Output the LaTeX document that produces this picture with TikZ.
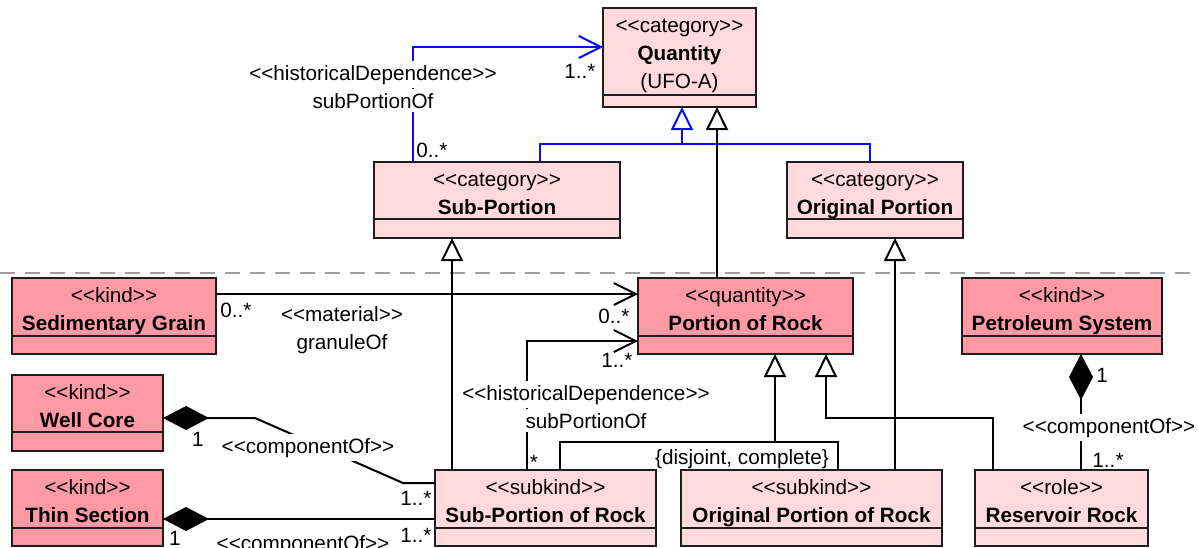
\documentclass[tikz,border=0pt]{standalone}
\usepackage{fontspec}
\setmainfont{Liberation Sans}
\usetikzlibrary{arrows.meta}
\definecolor{lpink}{RGB}{255,217,222}
\definecolor{dpink}{RGB}{255,153,163}
\definecolor{umlblue}{RGB}{10,10,255}
\definecolor{edge}{RGB}{30,30,30}
\newcommand\stereo[1]{<\kern0pt<#1>\kern0pt>}
\tikzset{
  umlrect/.style={draw=edge, line width=2pt, inner sep=0pt, outer sep=0pt},
  txt/.style={font=\fontsize{20.7}{28}\selectfont, inner sep=0pt, anchor=base},
  btxt/.style={txt, font=\fontsize{20.7}{28}\selectfont\bfseries},
  wtxt/.style={txt, fill=white, inner xsep=3pt, inner ysep=4pt},
  conn/.style={draw=black, line width=2pt},
  gen/.style={conn, -{Triangle[open, length=23pt, width=22pt, line width=2pt]}},
  assoc/.style={conn, -{Straight Barb[length=22pt, width=22pt, line width=2pt]}},
  comp/.style={conn, -{Diamond[length=46pt, width=24pt]}},
  bluel/.style={draw=umlblue},
  sepline/.style={draw=black!38, line width=1.2pt, dash pattern=on 15pt off 10pt}
}
\newcommand\umlbox[9]{%
  \node[umlrect, fill=#2, minimum width={(#5-#3)*1pt}, minimum height={(#6-#4)*1pt}] (#1) at ({(#3+#5)/2},{(#4+#6)/2}) {};
  \draw[umlrect] (#1.west |- 0,#7) -- (#1.east |- 0,#7);
  \node[txt] (#1-s) at ({(#3+#5)/2},{#4+24}) {#8};
  \node[btxt] (#1-t) at ({(#3+#5)/2},{#4+52}) {#9};
}
\begin{document}
\begin{tikzpicture}[x=1pt,y=-1pt]
\useasboundingbox (0,0) rectangle (1198,547);
\fill[white] (0,0) rectangle (1198,547);
\clip (0,0) rectangle (1198,547);
\draw[sepline] (0,273) -- (1198,273);

% boxes
\umlbox{qty}{lpink}{603}{8}{756}{107}{95}{\stereo{category}}{Quantity}
\node[txt] (qty-u) at (679.5,88) {(UFO-A)};
\umlbox{subp}{lpink}{374}{162}{620}{238}{219}{\stereo{category}}{Sub-Portion}
\umlbox{origp}{lpink}{787}{162}{963}{238}{219}{\stereo{category}}{Original Portion}
\umlbox{sed}{dpink}{12}{278}{216}{354}{336}{\stereo{kind}}{Sedimentary Grain}
\umlbox{por}{dpink}{638}{278}{853}{354}{336}{\stereo{quantity}}{Portion of Rock}
\umlbox{pet}{dpink}{962}{278}{1162}{354}{336}{\stereo{kind}}{Petroleum System}
\umlbox{well}{dpink}{12}{375}{163}{451}{432}{\stereo{kind}}{Well Core}
\umlbox{thin}{dpink}{12}{470}{163}{546}{528}{\stereo{kind}}{Thin Section}
\umlbox{spr}{lpink}{435}{470}{656}{546}{528}{\stereo{subkind}}{Sub-Portion of Rock}
\umlbox{opr}{lpink}{681}{470}{942}{546}{528}{\stereo{subkind}}{Original Portion of Rock}
\umlbox{res}{lpink}{975}{470}{1148}{546}{528}{\stereo{role}}{Reservoir Rock}

% junction coordinates
\coordinate (bj) at (682,144);
\coordinate (gs) at (775,442);

% blue connectors
\draw[conn, bluel] (540,0 |- subp.north) -- (540,144) -- (870,144) -- (870,0 |- origp.north);
\draw[gen, bluel] (bj) -- (682,0 |- qty.south);
\draw[assoc, bluel] (413,0 |- subp.north) -- (413,47) -- (qty.west |- 0,47);

% black generalizations
\draw[gen] (717,0 |- por.north) -- (717,0 |- qty.south);
\draw[gen] (452,0 |- spr.north) -- (452,0 |- subp.south);
\draw[gen] (895,0 |- opr.north) -- (895,0 |- origp.south);
\draw[conn] (560,0 |- spr.north) -- (560,442) -- (838,442) -- (838,0 |- opr.north);
\draw[gen] (gs) -- (775,0 |- por.south);
\draw[gen] (993,0 |- res.north) -- (993,418) -- (826,418) -- (826,0 |- por.south);

% associations
\draw[assoc] (sed.east |- 0,294) -- (por.west |- 0,294);
\draw[assoc] (527,0 |- spr.north) -- (527,341) -- (por.west |- 0,341);

% compositions
\draw[comp] (1081,0 |- res.north) -- (1081,0 |- pet.south);
\draw[comp] (spr.west |- 0,483) -- (403,483) -- (255,418) -- (well.east |- 0,418);
\draw[comp] (spr.west |- 0,519) -- (thin.east |- 0,519);

% labels
\node[wtxt] (la1) at (373,80) {\stereo{historicalDependence}};
\node[wtxt] (la2) at (373,108) {subPortionOf};
\node[txt] (ma1) at (580,78) {1..*};
\node[txt] (ma2) at (432,157) {0..*};

\node[txt] (ms1) at (236,317) {0..*};
\node[txt] (ls1) at (342,321) {\stereo{material}};
\node[txt] (ls2) at (342,349) {granuleOf};
\node[txt] (ms2) at (614,323) {0..*};

\node[txt] (mh1) at (617,367) {1..*};
\node[wtxt] (lh1) at (586,400) {\stereo{historicalDependence}};
\node[wtxt] (lh2) at (586,428) {subPortionOf};
\node[txt] (mh2) at (534,469) {*};

\node[txt] (gsl) at (742,464) {\{disjoint, complete\}};

\node[wtxt] (lw) at (308,453) {\stereo{componentOf}};
\node[txt] (mw1) at (198,446) {1};
\node[txt] (mw2) at (416,505) {1..*};

\node[txt] (mt1) at (175,545) {1};
\node[txt] (mt2) at (416,542) {1..*};
\node[txt] (lt) at (303,550) {\stereo{componentOf}};

\node[wtxt] (lp) at (1109,433) {\stereo{componentOf}};
\node[txt] (mp1) at (1102,382) {1};
\node[txt] (mp2) at (1108,467) {1..*};
\end{tikzpicture}
\end{document}
